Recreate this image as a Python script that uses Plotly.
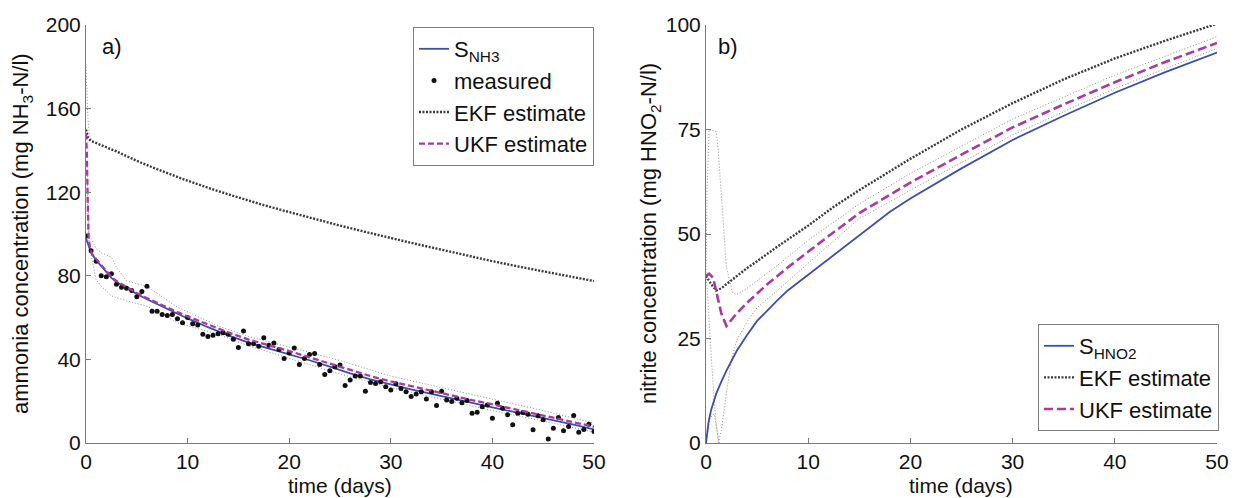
import plotly.graph_objects as go

# ---------------- Panel a: ammonia ----------------
t_meas = [0, 0.5, 1, 1.5, 2, 2.5, 3, 3.5, 4, 4.5, 5, 5.5, 6, 6.5, 7, 7.5, 8, 8.5, 9, 9.5,
          10, 10.5, 11, 11.5, 12, 12.5, 13, 13.5, 14, 14.5, 15, 15.5, 16, 16.5, 17, 17.5, 18, 18.5, 19, 19.5,
          20, 20.5, 21, 21.5, 22, 22.5, 23, 23.5, 24, 24.5, 25, 25.5, 26, 26.5, 27, 27.5, 28, 28.5, 29, 29.5,
          30, 30.5, 31, 31.5, 32, 32.5, 33, 33.5, 34, 34.5, 35, 35.5, 36, 36.5, 37, 37.5, 38, 38.5, 39, 39.5,
          40, 40.5, 41, 41.5, 42, 42.5, 43, 43.5, 44, 44.5, 45, 45.5, 46, 46.5, 47, 47.5, 48, 48.5, 49, 49.5, 50]
nh3_meas = [99, 92, 87, 80, 79.5, 81, 76, 74.5, 74, 73, 70, 72.5, 75, 63, 63, 61.5, 61, 61.5, 59.5, 57.5,
            60, 57, 56.5, 52, 51, 51.5, 52.3, 52.8, 52, 49.6, 45.7, 53.6, 47.5, 47.5, 46.3, 50.4, 46.8, 47.9, 44.7, 40.4,
            43.1, 45.5, 37.6, 40.4, 42.3, 42.8, 37.6, 32.8, 34.6, 36.5, 37.3, 27.5, 30.1, 32, 32, 24.8, 29, 28.5, 29.3, 26.9,
            25.3, 28.3, 26.1, 24.5, 22.2, 23.4, 24.5, 21, 24.5, 17.9, 24.8, 20.6, 19.8, 21.4, 19.3, 20.3, 14.2, 14.7, 17.4, 18.2,
            11.9, 19, 16.6, 13.5, 8.7, 14.2, 14.6, 13.8, 6.3, 13, 11.1, 1.9, 7.1, 12.2, 5.9, 7.9, 13.1, 5.2, 6.4, 9, 5.5]

t_nh3 = [0, 0.25, 0.5, 1, 1.5, 2, 2.5, 3, 4, 5, 6, 7, 8, 9, 10, 12, 14, 16, 18, 20, 22, 24, 26, 28,
         30, 32, 34, 36, 38, 40, 42, 44, 46, 48, 50]
nh3_true = [98, 94, 91, 87.5, 84.5, 81.5, 79, 77, 74, 71.3, 68.8, 66.4, 64, 61.8, 59.6, 55.4, 51.5, 48, 45.3, 42.5,
            39.6, 36.5, 33.3, 30.5, 28, 25.7, 23.5, 21.3, 19, 17, 15, 13, 11, 8.8, 6.5]

t_nh3_ukf = [0, 0.08, 0.16, 0.25, 0.4, 0.6, 1, 1.5, 2, 2.5, 3, 4, 5, 6, 7, 8, 9, 10, 12, 14, 16, 18, 20, 22, 24,
             26, 28, 30, 32, 34, 36, 38, 40, 42, 44, 46, 48, 50]
nh3_ukf = [148, 140, 118, 99, 93, 90.5, 88, 85, 82, 79.5, 77.5, 74.5, 71.8, 69.3, 67, 64.8, 62.6, 60.6, 56.6, 52.9,
           49.5, 46.8, 44, 41, 38, 34.8, 32, 29.5, 27.2, 25, 22.8, 20.5, 18.5, 16.4, 14.4, 12.3, 10, 7.8]

t_nh3_ekf = [0, 0.1, 0.2, 0.5, 1, 2, 3, 5, 7, 10, 12.5, 15, 17.5, 20, 22.5, 25, 27.5, 30, 32.5, 35, 37.5,
             40, 42.5, 45, 47.5, 50]
nh3_ekf = [150, 147.5, 146, 144.5, 143.5, 141.5, 139.5, 135, 131, 125.5, 121.3, 117.5, 113.8, 110.5, 107.2, 104,
           101, 98, 95.2, 92.5, 89.7, 87, 84.5, 82, 79.8, 77.5]

t_nh3_ekf_up = [0, 0.1, 0.2, 0.35, 0.5]
nh3_ekf_up = [180, 166, 154, 147, 145.5]

t_nh3_bnd = [0.1, 0.3, 1, 1.5, 2.5, 3, 4, 6, 9, 13, 16, 20, 25, 30, 35, 40, 45, 50]
nh3_bnd_up = [135, 100, 93, 91, 89, 84, 77.5, 75, 65, 56, 51, 46, 39.5, 32, 26.5, 21, 15.5, 9.5]
nh3_bnd_lo = [120, 95, 78, 75, 70.5, 69.5, 68, 65.5, 57.5, 52, 46.5, 40.5, 33, 26.5, 21, 15.5, 10.5, 5.2]

# ---------------- Panel b: nitrite ----------------
t_hno2 = [0, 0.1, 0.25, 0.5, 1, 1.5, 2, 3, 4, 5, 6, 7, 8, 10, 12, 15, 18, 20, 25, 30, 35, 40, 45, 50]
hno2_true = [0, 2.5, 5, 7.9, 11.8, 14.7, 17.3, 22, 25.8, 29.2, 31.8, 34.2, 36.5, 40.3, 44, 49.8, 55.3, 58.5, 65.7,
             72.5, 78.3, 83.8, 88.8, 93.4]

t_hno2_ukf = [0, 0.3, 0.7, 1, 1.5, 2, 2.5, 3, 4, 5, 6, 8, 10, 12, 15, 18, 20, 25, 30, 35, 40, 45, 50]
hno2_ukf = [40, 40.5, 39.5, 36, 31, 28, 29.5, 31, 33.5, 35.8, 38, 42, 45.8, 49.5, 55, 59.5, 62.3, 69, 75.5, 81,
            86.3, 91.2, 95.7]

t_hno2_ekf = [0, 0.5, 1, 1.5, 2, 3, 4, 5, 7, 10, 12.5, 15, 18, 20, 25, 30, 35, 40, 45, 50]
hno2_ekf = [40, 38, 36.5, 37, 38, 40, 41.8, 43.5, 47, 52, 56.5, 60.5, 65, 68, 75, 81.3, 87, 92, 96.3, 100.3]

t_hno2_bnd_up = [0, 0.1, 0.3, 1.0, 1.2, 1.6, 2.0, 2.6, 3, 4, 5, 7, 10, 15, 20, 30, 40, 50]
hno2_bnd_up = [40, 60, 75, 74.5, 70, 55, 42, 36, 35.5, 37, 38.8, 42.5, 48.5, 57.2, 64.5, 77.5, 88, 97.2]
t_hno2_bnd_lo = [0, 0.15, 0.4, 0.8, 1.2, 1.5, 2, 2.5, 3, 4, 5, 7, 10, 15, 20, 30, 40, 50]
hno2_bnd_lo = [40, 36, 25, 10, 0, 3, 12, 20, 24.5, 29, 32.4, 36.5, 43, 53.7, 60.5, 73.7, 84.8, 94.4]
t_hno2_bnd_x = [0, 0.4, 0.8, 1.3]
hno2_bnd_x = [0, 6, 7, 0]

x_ticks = [0, 10, 20, 30, 40, 50]
ya_ticks = [0, 40, 80, 120, 160, 200]
yb_ticks = [0, 25, 50, 75, 100]

BLUE = "#3d4fa8"
MAG = "#a83aa0"
EKFC = "#3a3a3a"
BND = "#8c8c8c"
FONT = "Liberation Sans, Arial, sans-serif"

fig = go.Figure()

# panel a bounds
for ty, vy in [(t_nh3_bnd, nh3_bnd_up), (t_nh3_bnd, nh3_bnd_lo), (t_nh3_ekf_up, nh3_ekf_up)]:
    fig.add_trace(go.Scatter(x=ty, y=vy, mode="lines", xaxis="x", yaxis="y", showlegend=False,
                             line=dict(color=BND, width=1, dash="1px,2px"), hoverinfo="skip"))

fig.add_trace(go.Scatter(x=t_nh3, y=nh3_true, mode="lines", name="S<sub>NH3</sub>", xaxis="x", yaxis="y",
                         line=dict(color=BLUE, width=1.8), legend="legend"))
fig.add_trace(go.Scatter(x=t_meas, y=nh3_meas, mode="markers", name="measured", xaxis="x", yaxis="y",
                         marker=dict(color="#111111", size=5), legend="legend"))
fig.add_trace(go.Scatter(x=t_nh3_ekf, y=nh3_ekf, mode="lines", name="EKF estimate", xaxis="x", yaxis="y",
                         line=dict(color=EKFC, width=2.4, dash="2px,1.5px"), legend="legend"))
fig.add_trace(go.Scatter(x=t_nh3_ukf, y=nh3_ukf, mode="lines", name="UKF estimate", xaxis="x", yaxis="y",
                         line=dict(color=MAG, width=2.3, dash="6px,3px"), legend="legend"))

# panel b bounds
for ty, vy in [(t_hno2_bnd_up, hno2_bnd_up), (t_hno2_bnd_lo, hno2_bnd_lo), (t_hno2_bnd_x, hno2_bnd_x)]:
    fig.add_trace(go.Scatter(x=ty, y=vy, mode="lines", xaxis="x2", yaxis="y2", showlegend=False,
                             line=dict(color=BND, width=1, dash="1px,2px"), hoverinfo="skip"))

fig.add_trace(go.Scatter(x=t_hno2, y=hno2_true, mode="lines", name="S<sub>HNO2</sub>", xaxis="x2", yaxis="y2",
                         line=dict(color=BLUE, width=1.8), legend="legend2"))
fig.add_trace(go.Scatter(x=t_hno2_ekf, y=hno2_ekf, mode="lines", name="EKF estimate", xaxis="x2", yaxis="y2",
                         line=dict(color=EKFC, width=2.4, dash="2px,1.5px"), legend="legend2"))
fig.add_trace(go.Scatter(x=t_hno2_ukf, y=hno2_ukf, mode="lines", name="UKF estimate", xaxis="x2", yaxis="y2",
                         line=dict(color=MAG, width=2.6, dash="9px,4px"), legend="legend2"))

W, H = 1235, 498
y_dom = [(H - 443) / H, (H - 25) / H]
ax_common = dict(showgrid=False, zeroline=False, showline=True, linecolor="#7a7a7a", linewidth=1,
                 ticks="inside", ticklen=5, tickcolor="#7a7a7a", automargin=False,
                 tickfont=dict(family=FONT, size=21, color="#111111"))

leg_font = dict(family=FONT, size=22, color="#111111")


def ann(text, x, y, angle=0, size=22):
    return dict(text=text, x=x / W, y=1 - y / H, xref="paper", yref="paper", showarrow=False,
                xanchor="center", yanchor="middle", textangle=angle, font=dict(family=FONT, size=size))


fig.update_layout(
    width=W, height=H, margin=dict(l=0, r=0, t=0, b=0),
    paper_bgcolor="white", plot_bgcolor="white",
    font=dict(family=FONT, size=22, color="#111111"),
    xaxis=dict(domain=[86 / W, 594 / W], range=[0, 50], tickvals=x_ticks, anchor="y", **ax_common),
    yaxis=dict(domain=y_dom, range=[0, 200], tickvals=ya_ticks, anchor="x", **ax_common),
    xaxis2=dict(domain=[706 / W, 1217 / W], range=[0, 50], tickvals=x_ticks, anchor="y2", **ax_common),
    yaxis2=dict(domain=y_dom, range=[0, 100], tickvals=yb_ticks, anchor="x2", **ax_common),
    legend=dict(x=594 / W, xanchor="right", y=1 - 27 / H, yanchor="top", bgcolor="white",
                bordercolor="#808080", borderwidth=1, font=leg_font, itemwidth=30, tracegroupgap=0),
    legend2=dict(x=1219 / W, xanchor="right", y=1 - 431 / H, yanchor="bottom", bgcolor="white",
                 bordercolor="#808080", borderwidth=1, font=leg_font, itemwidth=30, tracegroupgap=0),
    annotations=[
        ann("a)", 112, 47),
        ann("b)", 728, 46),
        ann("time (days)", 340, 485, size=21),
        ann("time (days)", 961, 485, size=21),
        ann("ammonia concentration (mg NH<sub>3</sub>-N/l)", 22, 234, -90),
        ann("nitrite concentration (mg HNO<sub>2</sub>-N/l)", 650, 234, -90),
    ],
)

fig.write_html("out.html", config={"displayModeBar": False},
               post_script="document.body.style.margin='0';document.body.style.overflow='hidden';")
